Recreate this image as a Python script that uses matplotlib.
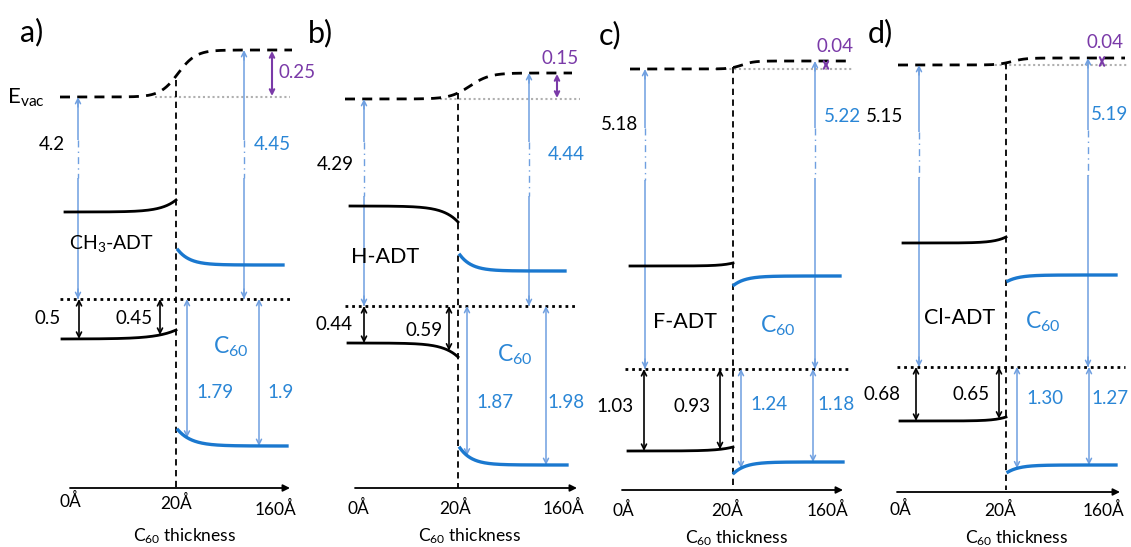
import numpy as np
import matplotlib
matplotlib.use('Agg')
import matplotlib.pyplot as plt

plt.rcParams['font.family'] = ['Lato', 'DejaVu Sans']
plt.rcParams['mathtext.fontset'] = 'custom'
plt.rcParams['mathtext.rm'] = 'Lato'
plt.rcParams['mathtext.it'] = 'Lato:italic'
plt.rcParams['mathtext.bf'] = 'Lato:bold'

# ---------------- data (labels / values) ----------------
panel_labels = ['a)', 'b)', 'c)', 'd)']
molecules = ['CH$_3$-ADT', 'H-ADT', 'F-ADT', 'Cl-ADT']
wf_adt = ['4.2', '4.29', '5.18', '5.15']        # Evac - EF on ADT (eV)
wf_c60 = ['4.45', '4.44', '5.22', '5.19']       # Evac - EF on 160 A C60 (eV)
vac_shift = ['0.25', '0.15', '0.04', '0.04']    # vacuum level shift (eV)
homo_adt_bulk = ['0.5', '0.44', '1.03', '0.68']
homo_adt_int = ['0.45', '0.59', '0.93', '0.65']
homo_c60_int = ['1.79', '1.87', '1.24', '1.30']
homo_c60_bulk = ['1.9', '1.98', '1.18', '1.27']
tick_labels = ['0Å', '20Å', '160Å']
xlabel_text = 'C$_{60}$ thickness'
evac_text = 'E$_{\\mathrm{vac}}$'

# ---------------- schematic layout (pixel space) ----------------
layout = [
    dict(lab=(32, 32), evac=(60, 292, 97, 50, 178, 9), gray=(155, 290, 97), xi=176, vline=(80, 488),
         lumoL=(65, 212, 200, 15), homoL=(62, 339, 330, 20),
         lumoC=(178, 283, 250, 265, 12), homoC=(178, 287, 430, 446, 14),
         fermi=(60, 290, 299), wfL=(78, 140, 178), wfR=(244, 140, 178), pur=272,
         blk=(79, 160), blu=(187, 259), axis=(70, 290, 488), tx=(70, 176, 276), ty=(501, 503, 509),
         xl=(185, 536),
         t_wfL=(52, 145), t_wfR=(272, 145), t_pur=(297, 73), t_hb=(48, 319), t_hi=(134, 319),
         t_ci=(215, 393), t_cb=(281, 393), t_mol=(112, 243), t_c60=(231, 347)),
    dict(lab=(320, 33), evac=(345, 572, 99, 73, 470, 10), gray=(440, 580, 99), xi=458, vline=(93, 488),
         lumoL=(350, 206, 222, 15), homoL=(348, 343, 357, 15),
         lumoC=(460, 565, 255, 271, 12), homoC=(460, 567, 448, 465, 12),
         fermi=(345, 575, 306), wfL=(364, 142, 196), wfR=(529, 142, 196), pur=557,
         blk=(364, 449), blu=(467, 546), axis=(355, 577, 488), tx=(358, 455, 563), ty=(508, 508, 508),
         xl=(470, 536),
         t_wfL=(335, 165), t_wfR=(566, 155), t_pur=(560, 58), t_hb=(334, 325), t_hi=(424, 330),
         t_ci=(495, 403), t_cb=(566, 403), t_mol=(385, 257), t_c60=(515, 355)),
    dict(lab=(610, 35), evac=(630, 852, 69, 61, 742, 6), gray=(715, 852, 69), xi=733, vline=(67, 490),
         lumoL=(630, 266, 263, 12), homoL=(628, 451, 447, 15),
         lumoC=(734, 840, 285, 276, 12), homoC=(734, 843, 473, 462, 12),
         fermi=(625, 850, 369), wfL=(645, 128, 180), wfR=(815, 128, 178), pur=826,
         blk=(644, 720), blu=(741, 813), axis=(622, 843, 490), tx=(623, 727, 828), ty=(510, 510, 510),
         xl=(737, 538),
         t_wfL=(620, 125), t_wfR=(842, 117), t_pur=(835, 47), t_hb=(615, 406), t_hi=(692, 406),
         t_ci=(769, 405), t_cb=(836, 405), t_mol=(685, 322), t_c60=(778, 326)),
    dict(lab=(880, 33), evac=(898, 1125, 65, 58, 1012, 7), gray=(990, 1127, 65), xi=1006, vline=(63, 490),
         lumoL=(903, 243, 237, 12), homoL=(900, 421, 417, 12),
         lumoC=(1008, 1116, 281, 275, 12), homoC=(1008, 1116, 472, 465, 12),
         fermi=(897, 1125, 367), wfL=(919, 132, 177), wfR=(1088, 130, 175), pur=1102,
         blk=(916, 999), blu=(1017, 1089), axis=(897, 1120, 492), tx=(900, 1000, 1103), ty=(509, 510, 510),
         xl=(1017, 538),
         t_wfL=(885, 117), t_wfR=(1110, 115), t_pur=(1105, 42), t_hb=(882, 395), t_hi=(971, 395),
         t_ci=(1045, 398), t_cb=(1110, 398), t_mol=(960, 318), t_c60=(1043, 322)),
]

BLK = '#000000'
C60_LINE = '#1a78cf'
ARR_BLUE = '#6f9fe0'
TXT_BLUE = '#2a86d6'
PURPLE = '#7a3aa8'
GRAY = '#b0b0b0'

FS_NUM = 13.5
FS_C60 = 16.5
FS_TICK = 12.5
FS_PANEL = 22

fig = plt.figure(figsize=(11.31, 5.47), dpi=100)
ax = fig.add_axes([0, 0, 1, 1])
ax.set_xlim(0, 1131)
ax.set_ylim(547, 0)
ax.axis('off')


def adt_y(x, xi, yf, ye, w):
    return yf + (ye - yf) * np.exp(-(xi - x) / w)


def c60_y(x, xs, ys, yf, w):
    return yf + (ys - yf) * np.exp(-(x - xs) / w)


def vac_y(x, yl, yr, xc, s):
    return yl + (yr - yl) / (1 + np.exp(-(x - xc) / s))


def darrow(x, y1, y2, color, lw, ms=9):
    ax.annotate('', xy=(x, y2), xytext=(x, y1),
                arrowprops=dict(arrowstyle='<->', color=color, lw=lw, shrinkA=0, shrinkB=0,
                                mutation_scale=ms))


def head(x, ytip, direction, color, lw, ms=9):
    ax.annotate('', xy=(x, ytip), xytext=(x, ytip + direction * 10),
                arrowprops=dict(arrowstyle='->', color=color, lw=lw, shrinkA=0, shrinkB=0,
                                mutation_scale=ms))


def wf_arrow(x, y_f, y_v, b1, b2):
    ax.plot([x, x], [y_f, b2], color=ARR_BLUE, lw=1.1, solid_capstyle='butt')
    ax.plot([x, x], [b1, y_v + 2], color=ARR_BLUE, lw=1.1, solid_capstyle='butt')
    ax.plot([x, x], [b1, b2], color=ARR_BLUE, lw=1.0, ls=(0, (5, 3, 1, 3)))
    head(x, y_v, 1, ARR_BLUE, 1.1)
    head(x, y_f, -1, ARR_BLUE, 1.1)


for i, L in enumerate(layout):
    xi = L['xi']
    # panel label
    ax.text(*L['lab'], panel_labels[i], fontsize=FS_PANEL, ha='center', va='center')
    # vacuum level
    x0, x1, yl, yr, xc, s = L['evac']
    xs = np.linspace(x0, x1, 300)
    ax.plot(xs, vac_y(xs, yl, yr, xc, s), color=BLK, lw=2.0, ls=(0, (3.6, 2.6)), zorder=3)
    gx0, gx1, gy = L['gray']
    ax.plot([gx0, gx1], [gy, gy], color=GRAY, lw=1.5, ls=(0, (1, 1.3)), zorder=2)
    # interface line
    ax.plot([xi, xi], L['vline'], color=BLK, lw=1.3, ls=(0, (3.5, 2.5)), zorder=3)
    # ADT levels
    for key in ('lumoL', 'homoL'):
        xa, yf, ye, w = L[key]
        xs = np.linspace(xa, xi, 200)
        ax.plot(xs, adt_y(xs, xi, yf, ye, w), color=BLK, lw=2.0, zorder=4)
    # C60 levels
    for key in ('lumoC', 'homoC'):
        xa, xb, ys, yf, w = L[key]
        xs = np.linspace(xa, xb, 200)
        ax.plot(xs, c60_y(xs, xa, ys, yf, w), color=C60_LINE, lw=2.4, zorder=4)
    # Fermi level
    fx0, fx1, fy = L['fermi']
    ax.plot([fx0, fx1], [fy, fy], color=BLK, lw=2.0, ls=(0, (1, 1.4)), zorder=3)
    # work-function arrows
    xw, b1, b2 = L['wfL']
    wf_arrow(xw, fy, yl, b1, b2)
    xw, b1, b2 = L['wfR']
    wf_arrow(xw, fy, vac_y(xw, yl, yr, xc, s), b1, b2)
    # vacuum shift arrow
    xp = L['pur']
    darrow(xp, yl - 1, vac_y(xp, yl, yr, xc, s) + 1, PURPLE, 1.5, ms=8)
    # HOMO offsets ADT
    xa, yf, ye, w = L['homoL']
    for xb in L['blk']:
        darrow(xb, fy, adt_y(xb, xi, yf, ye, w), BLK, 1.2)
    # HOMO offsets C60
    xa, xb_, ys, yf, w = L['homoC']
    for xb in L['blu']:
        darrow(xb, fy, c60_y(xb, xa, ys, yf, w), ARR_BLUE, 1.1)
    # thickness axis
    ax0, ax1, ay = L['axis']
    ax.annotate('', xy=(ax1, ay), xytext=(ax0, ay),
                arrowprops=dict(arrowstyle='-|>', color=BLK, lw=1.3, shrinkA=0, shrinkB=0,
                                mutation_scale=10))
    for tx, ty, tl in zip(L['tx'], L['ty'], tick_labels):
        ax.text(tx, ty, tl, fontsize=FS_TICK, ha='center', va='center')
    ax.text(*L['xl'], xlabel_text, fontsize=12.5, ha='center', va='center')
    # value labels
    ax.text(*L['t_wfL'], wf_adt[i], fontsize=FS_NUM, ha='center', va='center', color=BLK)
    ax.text(*L['t_wfR'], wf_c60[i], fontsize=FS_NUM, ha='center', va='center', color=TXT_BLUE)
    ax.text(*L['t_pur'], vac_shift[i], fontsize=FS_NUM, ha='center', va='center', color=PURPLE)
    ax.text(*L['t_hb'], homo_adt_bulk[i], fontsize=FS_NUM, ha='center', va='center', color=BLK)
    ax.text(*L['t_hi'], homo_adt_int[i], fontsize=FS_NUM, ha='center', va='center', color=BLK)
    ax.text(*L['t_ci'], homo_c60_int[i], fontsize=FS_NUM, ha='center', va='center', color=TXT_BLUE)
    ax.text(*L['t_cb'], homo_c60_bulk[i], fontsize=FS_NUM, ha='center', va='center', color=TXT_BLUE)
    ax.text(*L['t_mol'], molecules[i], fontsize=14 if i == 0 else 15.5, ha='center', va='center',
            color=BLK, zorder=6)
    ax.text(*L['t_c60'], 'C$_{60}$', fontsize=FS_C60, ha='center', va='center', color=TXT_BLUE,
            zorder=6)

ax.text(26, 98, evac_text, fontsize=16, ha='center', va='center')

fig.savefig('out.png', dpi=100)
